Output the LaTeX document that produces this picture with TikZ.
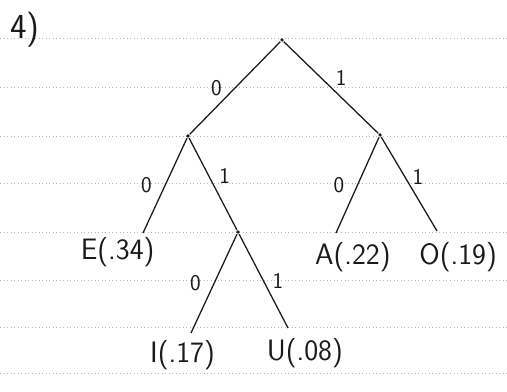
\documentclass[tikz,border=0pt]{standalone}
\usetikzlibrary{positioning}
\definecolor{cink}{HTML}{1A1A1A}
\definecolor{crule}{HTML}{B4B4B4}
\tikzset{
  every picture/.style={font=\sffamily, line width=0.9pt},
  branch/.style={draw=cink, line width=0.9pt},
  junction/.style={circle, fill=cink, inner sep=0pt, minimum size=2.5pt},
  leaf/.style={font=\sffamily\fontsize{21}{24}\selectfont, text=cink, inner sep=1pt},
  bit/.style={font=\sffamily\fontsize{16}{19}\selectfont, text=cink, inner sep=1pt},
  ruling/.style={draw=crule, dotted, line width=0.5pt},
}
\begin{document}
\begin{tikzpicture}[x=0.025cm, y=-0.025cm]
  \useasboundingbox (0,0) rectangle (507,392);
  % paper
  \foreach \y in {38,87,136,183,232,280,327,373}
    \draw[ruling] (0,\y) -- (507,\y);
  \node[font=\sffamily\fontsize{25}{29}\selectfont, text=cink] (q) at (25,30) {4)};
  % junctions
  \node[junction] (root) at (282,40) {};
  \node[junction] (n0) at (188,136) {};
  \node[junction] (n1) at (380,135) {};
  \node[junction] (n01) at (238,232) {};
  % leaf ends
  \coordinate (eE) at (143,233);
  \coordinate (eA) at (336,233);
  \coordinate (eO) at (437,231);
  \coordinate (eI) at (191,333);
  \coordinate (eU) at (288,328);
  \node[leaf, below=2pt of eE, xshift=-18] (E) {E(.34)};
  \node[leaf, below=5pt of eA, xshift=12] (A) {A(.22)};
  \node[leaf, below=7pt of eO, xshift=15] (O) {O(.19)};
  \node[leaf, below=4pt of eI, xshift=-6] (I) {I(.17)};
  \node[leaf, below=6pt of eU, xshift=12] (U) {U(.08)};
  % branches
  \draw[branch] (root) -- node[bit, left=8pt] {0} (n0);
  \draw[branch] (root) -- node[bit, above right=0pt and 2pt] {1} (n1);
  \draw[branch] (n0) -- node[bit, left=8pt] {0} (eE);
  \draw[branch] (n0) -- node[bit, right=3pt, yshift=6pt] {1} (n01);
  \draw[branch] (n1) -- node[bit, left=8pt] {0} (eA);
  \draw[branch] (n1) -- node[bit, right=1pt, yshift=5pt] {1} (eO);
  \draw[branch] (n01) -- node[bit, left=8pt] {0} (eI);
  \draw[branch] (n01) -- node[bit, right=5pt] {1} (eU);
\end{tikzpicture}
\end{document}
